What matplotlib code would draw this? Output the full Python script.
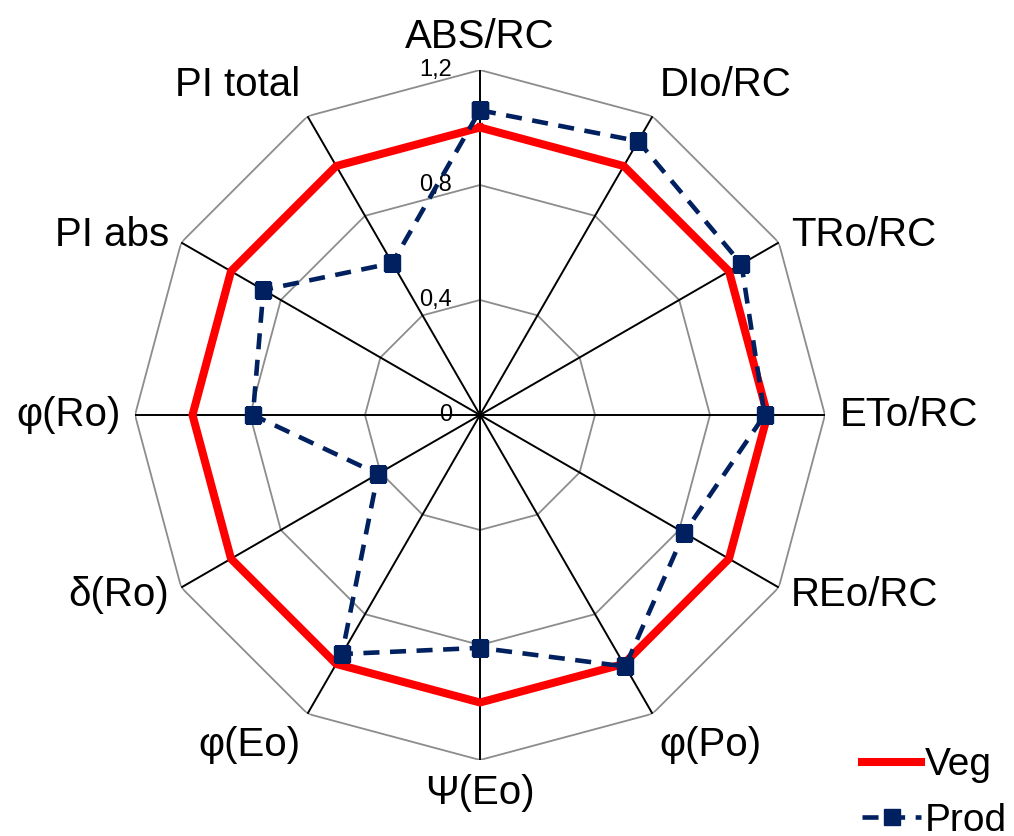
import numpy as np
import matplotlib
matplotlib.use("Agg")
import matplotlib.pyplot as plt

plt.rcParams['font.family'] = ['Liberation Sans', 'DejaVu Sans']

categories = ["ABS/RC", "DIo/RC", "TRo/RC", "ETo/RC", "REo/RC", "φ(Po)",
              "Ψ(Eo)", "φ(Eo)", "δ(Ro)", "φ(Ro)", "PI abs", "PI total"]
veg = [1.0, 1.0, 1.0, 1.0, 1.0, 1.0, 1.0, 1.0, 1.0, 1.0, 1.0, 1.0]
prod = [1.06, 1.10, 1.05, 0.99, 0.82, 1.01, 0.81, 0.96, 0.41, 0.79, 0.87, 0.61]
ring_values = [0.4, 0.8, 1.2]
ring_labels = ["0", "0,4", "0,8", "1,2"]
rmax = 1.2

n = len(categories)
angles = np.linspace(0, 2 * np.pi, n, endpoint=False)
closed = np.append(angles, angles[0])

fig = plt.figure(figsize=(10.14, 8.36), dpi=100)
ax = fig.add_axes([135 / 1014, 76 / 836, 690 / 1014, 690 / 836], projection='polar')
ax.set_theta_zero_location('N')
ax.set_theta_direction(-1)
ax.set_ylim(0, rmax)
ax.grid(False)
ax.spines['polar'].set_visible(False)
ax.set_xticks([])
ax.set_yticks([])
ax.patch.set_alpha(0)

# polygon rings
for r in ring_values:
    ax.plot(closed, [r] * (n + 1), color='#8c8c8c', lw=1.3, zorder=1)
# spokes
for a in angles:
    ax.plot([a, a], [0, rmax], color='black', lw=1.4, zorder=2)

ax.plot(closed, veg + veg[:1], color='#ff0000', lw=5.8, zorder=3,
        solid_joinstyle='miter', label='Veg')
ax.plot(closed, prod + prod[:1], color='#002060', lw=3.3, ls=(0, (3.5, 2.3)),
        marker='s', markersize=11, zorder=4, label='Prod')

# radial tick labels on the top spoke
for r, lbl in zip([0] + ring_values, ring_labels):
    ax.annotate(lbl, xy=(0, r), xytext=(-20, 0), textcoords='offset points',
                ha='right', va='center', fontsize=17)

# category labels
for a, lbl in zip(angles, categories):
    s, c = np.sin(a), np.cos(a)
    ha = 'center' if abs(s) < 0.1 else ('left' if s > 0 else 'right')
    va = 'bottom' if c > 0.8 else ('top' if c < -0.8 else 'center')
    ax.text(a, 1.25, lbl, ha=ha, va=va, fontsize=29)

fig.legend(loc='upper left', bbox_to_anchor=(843 / 1014, 1 - 728 / 836),
           frameon=False, fontsize=28, handlelength=1.5, handletextpad=0.1,
           borderpad=0, labelspacing=0.5)

fig.savefig("out.png", dpi=100)
